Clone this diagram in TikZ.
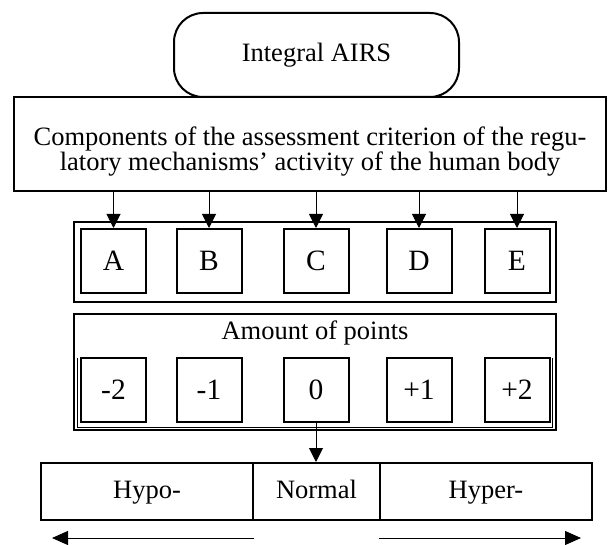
\documentclass[tikz,border=0pt]{standalone}
\usepackage{fontspec}
\setmainfont{Liberation Serif}
\usepackage{tikz}
\usetikzlibrary{arrows.meta}

\begin{document}
\begin{tikzpicture}[x=1pt, y=-1pt,
  txt/.style={font=\fontsize{26.5}{25.5}\selectfont},
  frame/.style={draw, line width=2pt, inner sep=0pt},
  cell/.style={frame, minimum width=65pt, minimum height=64pt, font=\fontsize{29.5}{30}\selectfont},
  part/.style={frame, txt, minimum height=57pt, text height=19pt, text depth=6pt},
  link/.style={-{Triangle[length=14pt, width=14pt]}, line width=1pt},
  wide/.style={-{Triangle[length=16pt, width=14pt]}, line width=1pt}]
\useasboundingbox (0, 0) rectangle (608, 545);

\node [frame, txt, rounded corners=29pt, minimum width=285pt, minimum height=84pt] (airs) at (316.5, 55) {Integral AIRS};
\node [frame, txt, minimum width=592pt, minimum height=94pt, align=center] (crit) at (310, 144)
  {\rule{0pt}{34pt}Components of the assessment criterion of the regu-\\latory mechanisms’ activity of the human body};

\node [frame, minimum width=482pt, minimum height=80pt] (grpA) at (315, 262) {};
\foreach \n/\x in {A/113.5, B/209, C/316, D/419, E/517} {
  \node [cell] (\n) at (\x, 261) {\n};
  \draw [link] (crit.south -| \n) -- (\n.north);
}

\node [frame, minimum width=482pt, minimum height=116pt] (grpP) at (315, 372) {};
\node [txt] (amount) at (315, 333) {Amount of points};
\node [inner sep=0pt, minimum width=474pt, minimum height=69pt] (rowP) at (315, 392.5) {};
\draw [line width=1pt] (rowP.north west) |- (rowP.south east) -- (rowP.north east);
\foreach \n/\x/\v in {m2/113.5/-2, m1/209/-1, z/316/0, p1/419/+1, p2/517/+2}
  \node [cell] (\n) at (\x, 390) {\v};

\node [part, minimum width=212pt] (hypo) at (147, 491.5) {Hypo-};
\node [part, minimum width=127pt] (norm) at (316.5, 491.5) {Normal};
\node [part, minimum width=212pt] (hyper) at (486, 491.5) {Hyper-};
\draw [link] (z.south) -- (z.south |- norm.north);

\coordinate (lowL) at (52, 538);
\coordinate (lowR) at (581, 538);
\draw [wide] (hypo.east |- lowL) -- (lowL);
\draw [wide] (hyper.west |- lowR) -- (lowR);
\end{tikzpicture}
\end{document}
